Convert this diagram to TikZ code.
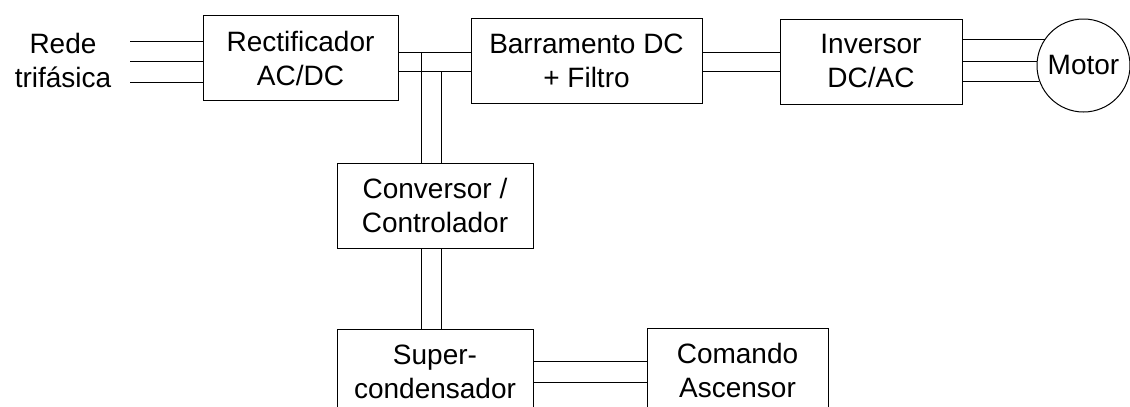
\documentclass[tikz,border=0pt]{standalone}
\usepackage{fontspec}
\setmainfont{Liberation Sans}
\usetikzlibrary{positioning,calc}

\begin{document}
\begin{tikzpicture}[
  x=1pt,y=1pt,
  every node/.style={font=\fontsize{28}{34}\selectfont,align=center},
  block/.style={draw,line width=1pt,minimum height=85pt,inner sep=0pt},
  wire/.style={line width=1pt}
]
\clip (0,0) rectangle (1130,-407);
\node (rede) at (63,-60) {Rede\\trifásica};
\node[block,minimum width=195pt] (rect) at (300.5,-58) {Rectificador\\AC/DC};
\node[block,minimum width=231pt] (bus) at (586.5,-60.5) {Barramento DC\\+ Filtro};
\node[block,minimum width=182pt] (inv) at (871,-61.5) {Inversor\\DC/AC};
\node[draw,circle,line width=1pt,minimum size=93pt,inner sep=0pt] (motor) at (1083.5,-65.5) {Motor};
\node[block,minimum width=196pt] (conv) at (435,-205.5) {Conversor /\\Controlador};
\node[block,minimum width=196pt] (sup) at (435,-371.5) {Super-\\condensador};
\node[block,minimum width=181pt] (cmd) at (737.5,-370.5) {Comando\\Ascensor};
% rede -> rectificador
\coordinate (in1) at (130,-41);
\coordinate (in2) at (130,-61);
\coordinate (in3) at (130,-82);
\draw[wire] (in1) -- (in1 -| rect.west);
\draw[wire] (in2) -- (in2 -| rect.west);
\draw[wire] (in3) -- (in3 -| rect.west);
% barramento DC
\coordinate (dc1) at ([yshift=6pt]rect.east);
\coordinate (dc2) at ([yshift=-13pt]rect.east);
\coordinate (cv1) at ([xshift=-14pt]conv.north);
\coordinate (cv2) at ([xshift=6pt]conv.north);
\draw[wire] (dc1) -- (dc1 -| bus.west);
\draw[wire] (dc2) -- (dc2 -| bus.west);
\draw[wire] (cv1) -- (cv1 |- dc1);
\draw[wire] (cv2) -- (cv2 |- dc2);
\draw[wire] (dc1 -| bus.east) -- (dc1 -| inv.west);
\draw[wire] (dc2 -| bus.east) -- (dc2 -| inv.west);
% inversor -> motor
\draw[wire] (motor.146.7 -| inv.east) -- (motor.146.7);
\draw[wire] (motor.175.7 -| inv.east) -- (motor.175.7);
\draw[wire] (motor.200.8 -| inv.east) -- (motor.200.8);
% conversor -> supercondensador
\draw[wire] (conv.south -| cv1) -- (sup.north -| cv1);
\draw[wire] (conv.south -| cv2) -- (sup.north -| cv2);
% supercondensador -> comando
\coordinate (sc1) at ([yshift=10.5pt]sup.east);
\coordinate (sc2) at ([yshift=-10.5pt]sup.east);
\draw[wire] (sc1) -- (sc1 -| cmd.west);
\draw[wire] (sc2) -- (sc2 -| cmd.west);
\end{tikzpicture}
\end{document}
